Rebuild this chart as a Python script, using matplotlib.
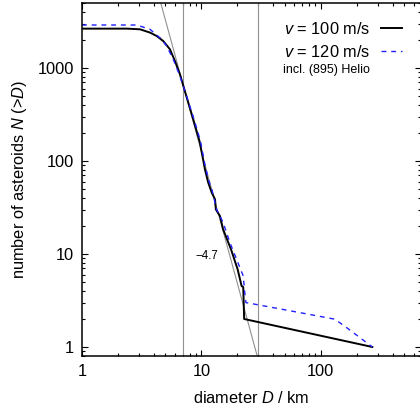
import numpy as np
import matplotlib
matplotlib.use("Agg")
import matplotlib.pyplot as plt
from matplotlib.ticker import FuncFormatter, LogLocator, NullFormatter

plt.rcParams['font.family'] = ['Liberation Sans', 'DejaVu Sans']
plt.rcParams['mathtext.fontset'] = 'custom'
plt.rcParams['mathtext.rm'] = 'Liberation Sans'
plt.rcParams['mathtext.it'] = 'Liberation Sans:italic'

# cumulative size distribution, v = 100 m/s
d_100 = [1, 2.38, 3.06, 3.71, 4.22, 4.79, 5.45, 6.00, 6.61, 7.28, 8.54, 9.71,
         10.7, 11.4, 12.2, 13.0, 13.2, 14.3, 15.2, 17.7, 20.1, 21.7, 22.4,
         22.6, 22.8, 270]
n_100 = [2650, 2650, 2607, 2404, 2208, 1950, 1589, 1189, 855, 560, 281, 158,
         81.4, 58.6, 45.7, 38.7, 30.2, 25.6, 18.4, 11.2, 6.85, 4.53, 4.4,
         3.0, 2.0, 1]

# v = 120 m/s incl. (895) Helio
d_120 = [1, 2.87, 3.71, 4.64, 5.11, 5.81, 6.61, 7.28, 8.6, 9.8, 10.8, 11.5,
         12.3, 13.4, 15.2, 17.3, 19.7, 22.4, 23.0, 23.6, 25.5, 111.6, 131,
         164, 270]
n_120 = [2900, 2900, 2607, 2036, 1725, 1241, 820, 566, 290, 165, 86, 62,
         48, 30.2, 21.8, 13.3, 8.77, 5.8, 4.0, 3.0, 2.95, 2.07, 1.99,
         1.62, 1]

# power-law fit N = k D^slope and the fit range
fit_slope = -4.7
fit_norm = 6.3e6
fit_range = [7, 30]

FS = 11.8

fig = plt.figure(figsize=(4.2, 4.12), dpi=100)
ax = fig.add_axes([82 / 420, 56 / 412, 339 / 420, 353 / 412])

d_fit = np.logspace(0, 3, 200)
ax.plot(d_fit, fit_norm * d_fit ** fit_slope, color='#909090', lw=0.8)
for d in fit_range:
    ax.axvline(d, color='#909090', lw=0.8)

l1, = ax.plot(d_100, n_100, color='black', lw=1.4)
l2, = ax.plot(d_120, n_120, color='#2020ff', lw=1.0, ls=(0, (3.5, 3.5)))

ax.text(11, 9.5, '\u2212' + str(-fit_slope), fontsize=8.3, ha='center', va='center')

ax.set_xscale('log')
ax.set_yscale('log')
ax.set_xlim(1, 690)
ax.set_ylim(0.8, 5000)

fmt = FuncFormatter(lambda v, p: '%g' % v)
for axis in (ax.xaxis, ax.yaxis):
    axis.set_major_locator(LogLocator(base=10))
    axis.set_minor_locator(LogLocator(base=10, subs=np.arange(2, 10)))
    axis.set_major_formatter(fmt)
    axis.set_minor_formatter(NullFormatter())

ax.tick_params(which='both', direction='in', top=True, right=True,
               labelsize=FS, width=0.8)
ax.tick_params(which='major', length=4.5, pad=6)
ax.tick_params(which='minor', length=2.5)
for s in ax.spines.values():
    s.set_linewidth(1.1)

ax.set_xlabel('diameter $D$ / km', fontsize=FS, labelpad=8)
ax.set_ylabel('number of asteroids $N$ (>$D$)', fontsize=FS, labelpad=6)

leg = ax.legend([l1, l2], ['$v$ = 100 m/s', '$v$ = 120 m/s'],
                loc='upper right', bbox_to_anchor=(0.944, 0.949),
                frameon=False, markerfirst=False, handlelength=1.3,
                handletextpad=0.65, borderpad=0, borderaxespad=0,
                fontsize=FS, labelspacing=0.42)
# legend is drawn late, so the note goes on top of it
ax.annotate('incl. (895) Helio', xy=(1, 0), xycoords=leg.get_texts()[1],
            xytext=(0, -3), textcoords='offset points',
            ha='right', va='top', fontsize=9, zorder=10)

fig.savefig('out.png', dpi=100)
